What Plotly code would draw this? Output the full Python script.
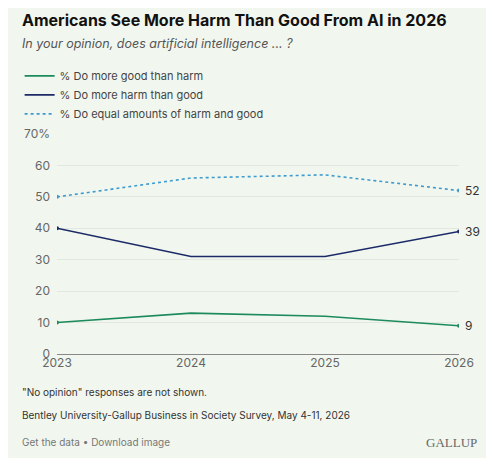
import plotly.graph_objects as go

years = [2023, 2024, 2025, 2026]
good = [10, 13, 12, 9]
harm = [40, 31, 31, 39]
equal = [50, 56, 57, 52]

series = [
    ("% Do more good than harm", good, "#1d8a5c", "solid"),
    ("% Do more harm than good", harm, "#1c2a68", "solid"),
    ("% Do equal amounts of harm and good", equal, "#3d9bd0", "dot"),
]

fig = go.Figure()
for name, vals, color, dash in series:
    fig.add_trace(go.Scatter(
        x=years, y=vals, name=name, mode="lines",
        line=dict(color=color, width=1.6, dash=dash),
    ))
    fig.add_trace(go.Scatter(
        x=[years[0], years[-1]], y=[vals[0], vals[-1]], mode="markers",
        marker=dict(color=color, size=4), showlegend=False, hoverinfo="skip",
    ))
    fig.add_annotation(x=years[-1], y=vals[-1], text=str(vals[-1]), showarrow=False,
                       xanchor="left", xshift=4, font=dict(size=12, color="#333"))

left = -0.093
fig.add_annotation(xref="paper", yref="paper", x=left, y=1.518, xanchor="left", yanchor="middle",
                   text="<b>Americans See More Harm Than Good From AI in 2026</b>", showarrow=False,
                   font=dict(size=16, color="#111"))
fig.add_annotation(xref="paper", yref="paper", x=left, y=1.413, xanchor="left", yanchor="middle",
                   text="<i>In your opinion, does artificial intelligence ... ?</i>", showarrow=False,
                   font=dict(size=12.5, color="#555"))
for y, txt, col in [(-0.173, "\"No opinion\" responses are not shown.", "#333"),
                    (-0.277, "Bentley University-Gallup Business in Society Survey, May 4-11, 2026", "#333"),
                    (-0.40, "Get the data • Download image", "#777")]:
    fig.add_annotation(xref="paper", yref="paper", x=left, y=y, xanchor="left", yanchor="middle",
                       text=txt, showarrow=False, font=dict(size=10, color=col))
fig.add_annotation(xref="paper", yref="paper", x=1.05, y=-0.40, xanchor="right", yanchor="middle",
                   text="GALLUP", showarrow=False,
                   font=dict(size=13, color="#666", family="Liberation Serif"))

fig.update_layout(
    width=478, height=450,
    margin=dict(l=44, r=27, t=126, b=104),
    paper_bgcolor="#f1f7ef", plot_bgcolor="#f1f7ef",
    font=dict(family="Inter, Roboto, sans-serif", color="#555"),
    legend=dict(x=left, y=1.33, xanchor="left", yanchor="top", bgcolor="rgba(0,0,0,0)",
                font=dict(size=11, color="#444"), itemwidth=30, tracegroupgap=0),
    xaxis=dict(range=[2023, 2026], tickvals=years, showgrid=False, zeroline=False,
               tickfont=dict(size=12, color="#666"), ticks="", ticklabelstandoff=0),
    yaxis=dict(range=[0, 70], tickvals=[0, 10, 20, 30, 40, 50, 60, 70],
               ticktext=["0", "10", "20", "30", "40", "50", "60", "70%"],
               gridcolor="#e2e8e0", zeroline=True, zerolinecolor="#888", zerolinewidth=1,
               tickfont=dict(size=12, color="#666"), ticks="", ticklabelstandoff=6),
)

fig.write_html("out.html")
